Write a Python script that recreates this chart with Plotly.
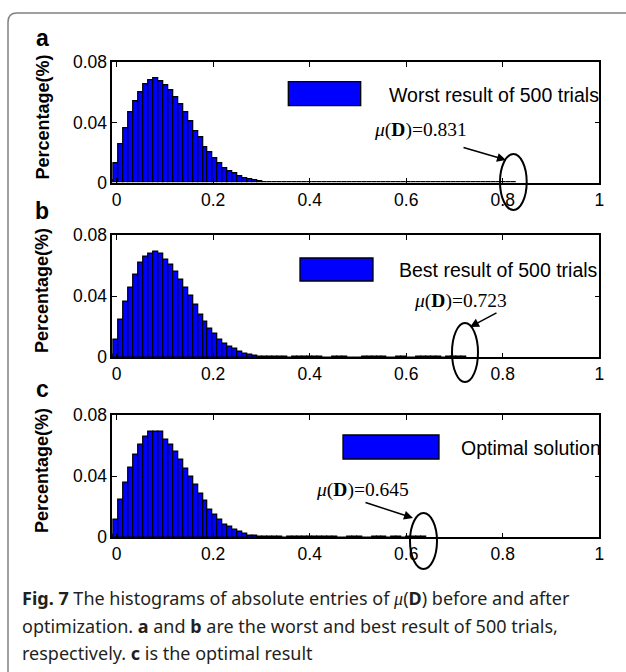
import numpy as np
import plotly.graph_objects as go

W, H = 626, 672
def px(x):
    return x / W
def py(y):
    return 1 - y / H

# ---------------- data ----------------
bin_width = 0.0103
first_center = -0.012

worst = [0.0018, 0.0129, 0.0255, 0.0361, 0.0468, 0.0539, 0.0598, 0.0656, 0.0683, 0.0694,
         0.0676, 0.0645, 0.0616, 0.0567, 0.0521, 0.0468, 0.0408, 0.0340, 0.0300, 0.0236,
         0.0200, 0.0162, 0.0126, 0.0095, 0.0075, 0.0060, 0.0045, 0.0031, 0.0022, 0.0013,
         0.0007,
         0.0005, 0.0005, 0.0005, 0.0005, 0.0005, 0.0005, 0.0005, 0.0005, 0.0005,
         0.0006, 0.0006, 0.0006, 0, 0, 0.0006, 0.0006, 0.0006, 0, 0,
         0.0006, 0.0006, 0.0006, 0.0006, 0.0006, 0.0006, 0.0006, 0.0006, 0.0006, 0, 0,
         0.0006, 0.0006, 0.0006, 0.0006, 0.0006, 0.0006, 0.0006, 0.0006, 0, 0.0006,
         0, 0, 0.0006, 0, 0, 0, 0, 0, 0, 0.0006, 0.0006]

best = [0.0015, 0.0117, 0.0248, 0.0363, 0.0457, 0.0537, 0.0617, 0.0657, 0.0678, 0.0689,
        0.0674, 0.0639, 0.0602, 0.0559, 0.0504, 0.0457, 0.0400, 0.0341, 0.0276, 0.0233,
        0.0185, 0.0152, 0.0117, 0.0087, 0.0070, 0.0057, 0.0037, 0.0022, 0.0015, 0.0010,
        0.0005, 0.0005, 0.0005, 0.0005, 0.0005, 0.0005, 0, 0.0005, 0.0005, 0.0005,
        0.0005, 0.0005, 0.0005, 0, 0, 0.0005, 0.0005, 0.0005, 0, 0,
        0, 0.0005, 0.0005, 0.0005, 0.0005, 0.0005, 0, 0, 0.0005, 0.0005,
        0, 0, 0.0005, 0.0005, 0.0005, 0.0005, 0.0005, 0, 0.0005, 0.0005,
        0.0005, 0.0005]

optimal = [0.0015, 0.0117, 0.0248, 0.0357, 0.0457, 0.0537, 0.0602, 0.0657, 0.0689, 0.0689,
           0.0689, 0.0639, 0.0602, 0.0559, 0.0504, 0.0450, 0.0396, 0.0341, 0.0283, 0.0239,
           0.0178, 0.0146, 0.0117, 0.0080, 0.0070, 0.0052, 0.0037, 0.0022, 0.0013, 0.0009,
           0.0005, 0.0005, 0.0005, 0.0005, 0.0005, 0, 0.0005, 0.0005, 0.0005, 0.0005,
           0.0005, 0.0005, 0.0005, 0.0005, 0.0005, 0.0005, 0, 0, 0.0005, 0.0005,
           0.0005, 0, 0, 0.0005, 0.0005, 0.0005, 0, 0.0005, 0.0005, 0,
           0.0005, 0.0005, 0.0005, 0.0005]

series = [worst, best, optimal]
panel_labels = ["a", "b", "c"]
legend_names = ["Worst result of 500 trials", "Best result of 500 trials", "Optimal solution"]
mu_values = ["0.831", "0.723", "0.645"]
x_ticks = [0, 0.2, 0.4, 0.6, 0.8, 1]
x_tick_labels = ["0", "0.2", "0.4", "0.6", "0.8", "1"]
y_ticks = [0, 0.04, 0.08]
y_tick_labels = ["0", "0.04", "0.08"]
y_title = "Percentage(%)"

# ---------------- layout geometry (pixels) ----------------
plot_left, plot_right = 112.3, 599.3
panel_rows = [(62.3, 182.7), (234.7, 357.3), (414.7, 537.3)]
label_y = [38, 211, 389]
legend_rects = [(288.3, 81.7, 360.7, 105.7), (300, 258, 373, 281), (343, 435, 439, 459)]
legend_text_pos = [(386.7, 95), (397, 270), (459, 448)]
mu_text_pos = [(420, 130), (460, 301), (362, 490)]
arrows = [((462, 147), (506, 160)), ((498, 312), (470, 327)), ((364, 502), (413, 518))]
ellipses = [(500, 154, 526.7, 210), (452, 323, 478, 382), (410, 513, 437, 569)]

SANS = "Liberation Sans, Arial, sans-serif"
SERIF = "Liberation Serif, Times New Roman, serif"

fig = go.Figure()
layout = dict(
    width=W, height=H,
    margin=dict(l=0, r=0, t=0, b=0, pad=0, autoexpand=False),
    paper_bgcolor="white", plot_bgcolor="white",
    showlegend=False, bargap=0,
    font=dict(family=SANS, color="black"),
)
annotations = []
shapes = []

for k, vals in enumerate(series):
    sfx = "" if k == 0 else str(k + 1)
    centers = first_center + bin_width * np.arange(len(vals))
    fig.add_trace(go.Bar(
        x=centers, y=vals, width=bin_width,
        marker=dict(color="#0000FF", line=dict(color="black", width=1.2)),
        xaxis="x" + sfx, yaxis="y" + sfx,
    ))
    top, bot = panel_rows[k]
    axis_common = dict(
        showline=True, linecolor="black", linewidth=1.6, mirror="ticks",
        ticks="inside", ticklen=5, tickwidth=1.4, tickcolor="black",
        showgrid=False, zeroline=False, automargin=False,
        tickfont=dict(family=SANS, size=17.5, color="black"),
    )
    layout["xaxis" + sfx] = dict(
        domain=[px(plot_left), px(plot_right)], range=[-0.009, 1.0],
        tickvals=x_ticks, ticktext=x_tick_labels, anchor="y" + sfx, **axis_common)
    layout["yaxis" + sfx] = dict(
        domain=[py(bot), py(top)], range=[0, 0.08],
        tickvals=y_ticks, ticktext=y_tick_labels, anchor="x" + sfx, **axis_common)

    # panel letter
    annotations.append(dict(
        text="<b>%s</b>" % panel_labels[k], x=px(42), y=py(label_y[k]),
        xref="paper", yref="paper", xanchor="center", yanchor="middle",
        showarrow=False, font=dict(family=SANS, size=23, color="black")))
    # y title
    annotations.append(dict(
        text="<b>%s</b>" % y_title, x=px(42), y=py((top + bot) / 2 - 5),
        xref="paper", yref="paper", xanchor="center", yanchor="middle",
        textangle=-90, showarrow=False, font=dict(family=SANS, size=18, color="black")))
    # legend patch + text
    x0, y0, x1, y1 = legend_rects[k]
    shapes.append(dict(type="rect", xref="paper", yref="paper",
                       x0=px(x0), x1=px(x1), y0=py(y1), y1=py(y0),
                       fillcolor="#0000FF", line=dict(color="black", width=1.3)))
    tx, ty = legend_text_pos[k]
    annotations.append(dict(
        text=legend_names[k], x=px(tx), y=py(ty), xref="paper", yref="paper",
        xanchor="left", yanchor="middle", showarrow=False,
        font=dict(family=SANS, size=19.5, color="black")))
    # mu label
    mx, my = mu_text_pos[k]
    annotations.append(dict(
        text="<i>μ</i>(<b>D</b>)=%s" % mu_values[k], x=px(mx), y=py(my),
        xref="paper", yref="paper", xanchor="center", yanchor="middle",
        showarrow=False, font=dict(family=SERIF, size=19.5, color="black")))
    # arrow
    (tx0, ty0), (hx, hy) = arrows[k]
    annotations.append(dict(
        text="", x=px(hx), y=py(hy), xref="paper", yref="paper",
        ax=tx0 - hx, ay=ty0 - hy, axref="pixel", ayref="pixel",
        showarrow=True, arrowhead=2, arrowsize=1.2, arrowwidth=1.5, arrowcolor="black"))
    # ellipse
    ex0, ey0, ex1, ey1 = ellipses[k]
    shapes.append(dict(type="circle", xref="paper", yref="paper",
                       x0=px(ex0), x1=px(ex1), y0=py(ey1), y1=py(ey0),
                       line=dict(color="black", width=2)))

# outer frame (rounded corner)
shapes.append(dict(
    type="path", xref="paper", yref="paper",
    path="M %f,%f L %f,%f Q %f,%f %f,%f L %f,%f" % (
        px(8), py(700), px(8), py(22), px(8), py(13), px(17), py(13), px(640), py(13)),
    line=dict(color="#808080", width=1.5)))

# caption
CAP = "Noto Sans, Open Sans, sans-serif"
mu_html = "<span style='font-family:Liberation Serif'><i>μ</i></span>"
caption_lines = [
    "<b>Fig. 7</b> The histograms of absolute entries of %s(<b>D</b>) before and after" % mu_html,
    "optimization. <b>a</b> and <b>b</b> are the worst and best result of 500 trials,",
    "respectively. <b>c</b> is the optimal result",
]
caption_y = [598, 626, 653]
for line, cy in zip(caption_lines, caption_y):
    annotations.append(dict(
        text=line, x=px(20), y=py(cy), xref="paper", yref="paper",
        xanchor="left", yanchor="middle", showarrow=False,
        font=dict(family=CAP, size=18, color="#231f20")))

layout["annotations"] = annotations
layout["shapes"] = shapes
fig.update_layout(**layout)
fig.write_html("out.html")
